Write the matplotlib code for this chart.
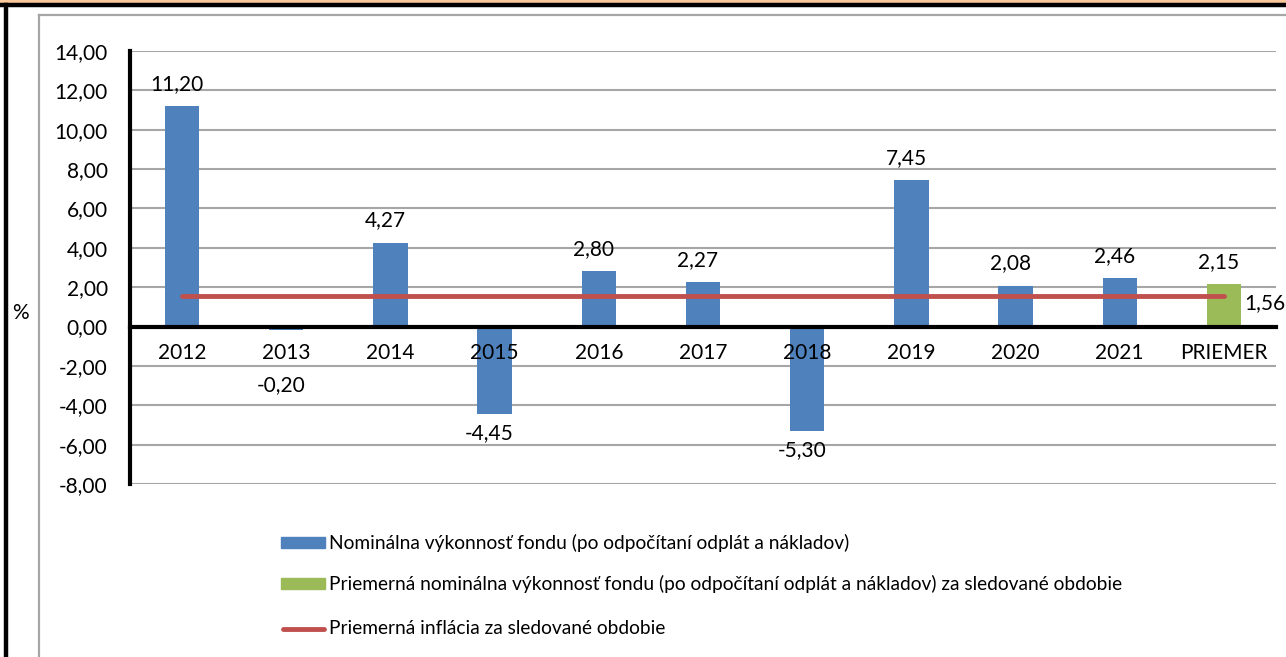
import matplotlib
matplotlib.use("Agg")
import matplotlib.pyplot as plt
from matplotlib.patches import Rectangle
from matplotlib.lines import Line2D

plt.rcParams['font.family'] = ['Lato', 'DejaVu Sans']

# data
categories = ['2012', '2013', '2014', '2015', '2016', '2017', '2018', '2019', '2020', '2021', 'PRIEMER']
values = [11.20, -0.20, 4.27, -4.45, 2.80, 2.27, -5.30, 7.45, 2.08, 2.46, 2.15]
inflation = 1.56
legend_labels = [
    'Nominálna výkonnosť fondu (po odpočítaní odplát a nákladov)',
    'Priemerná nominálna výkonnosť fondu (po odpočítaní odplát a nákladov) za sledované obdobie',
    'Priemerná inflácia za sledované obdobie',
]

BLUE = '#4F81BD'
GREEN = '#9BBB59'
RED = '#C0504D'
GRID = '#A6A6A6'
W, H = 1286, 657
FS = 15


def fmt(v):
    return ('%.2f' % v).replace('.', ',')


fig = plt.figure(figsize=(W / 100, H / 100), dpi=100)

# outer decorations (border of the page / chart area)
fig.patches.append(Rectangle((0, 1 - 3 / H), 1, 3 / H, transform=fig.transFigure,
                             color='#F9C89B', zorder=0))
fig.add_artist(Line2D([0, 1], [1 - 5 / H, 1 - 5 / H], color='black', lw=3.2))
fig.add_artist(Line2D([6 / W, 6 / W], [0, 1 - 5 / H], color='black', lw=3.2))
fig.add_artist(Line2D([39 / W, 39 / W], [0, 1 - 15 / H], color=GRID, lw=1.6))
fig.add_artist(Line2D([39 / W, 1], [1 - 15 / H, 1 - 15 / H], color=GRID, lw=1.6))

ax = fig.add_axes([130 / W, 1 - 484 / H, (1276 - 130) / W, (484 - 51) / H])
x = list(range(len(categories)))
colors = [BLUE] * (len(categories) - 1) + [GREEN]
ax.bar(x, values, width=0.33, color=colors, zorder=2)
ax.plot([x[0], x[-1]], [inflation, inflation], color=RED, lw=3.5,
        solid_capstyle='round', zorder=3)

ax.set_xlim(-0.5, len(categories) - 0.5)
ax.set_ylim(-8, 14)
ax.set_yticks(range(-8, 15, 2))
ax.set_yticklabels([fmt(t) for t in range(-8, 15, 2)], fontsize=FS)
ax.yaxis.grid(True, color=GRID, lw=1.5, zorder=0)
ax.set_axisbelow(True)
ax.tick_params(axis='y', length=0, pad=16)

ax.spines['left'].set_linewidth(3)
ax.spines['bottom'].set_position(('data', 0))
ax.spines['bottom'].set_linewidth(3)
ax.spines['bottom'].set_zorder(4)
ax.spines['top'].set_visible(False)
ax.spines['right'].set_visible(False)
ax.set_xticks([])

# category labels just under the zero line, drawn over the bars
for xi, cat in zip(x, categories):
    ax.annotate(cat, (xi, 0), xytext=(0, -19), textcoords='offset points',
                ha='center', va='center', fontsize=FS, zorder=5)

# value labels
for xi, v in zip(x, values):
    if v >= 0:
        ax.annotate(fmt(v), (xi - 0.05, v), xytext=(0, 16), textcoords='offset points',
                    ha='center', va='center', fontsize=FS)
    else:
        ax.annotate(fmt(v), (xi - 0.05, min(v, -2.0)), xytext=(0, -14),
                    textcoords='offset points', ha='center', va='center', fontsize=FS)
ax.annotate(fmt(inflation), (x[-1], inflation), xytext=(15, -5), textcoords='offset points',
            ha='left', va='center', fontsize=FS)

fig.text(20 / W, 1 - 313 / H, '%', fontsize=FS, ha='center', va='center')

# legend
legend_y = [543, 584, 629]
for i, (lab, yy) in enumerate(zip(legend_labels, legend_y)):
    if i < 2:
        fig.patches.append(Rectangle((281 / W, 1 - (yy + 5) / H), 44 / W, 11 / H,
                                     transform=fig.transFigure,
                                     color=[BLUE, GREEN][i]))
    else:
        fig.add_artist(Line2D([283 / W, 324 / W], [1 - yy / H, 1 - yy / H], color=RED,
                              lw=3.5, solid_capstyle='round'))
    fig.text(329 / W, 1 - yy / H, lab, fontsize=13.8, ha='left', va='center')

fig.savefig('out.png', dpi=100)
